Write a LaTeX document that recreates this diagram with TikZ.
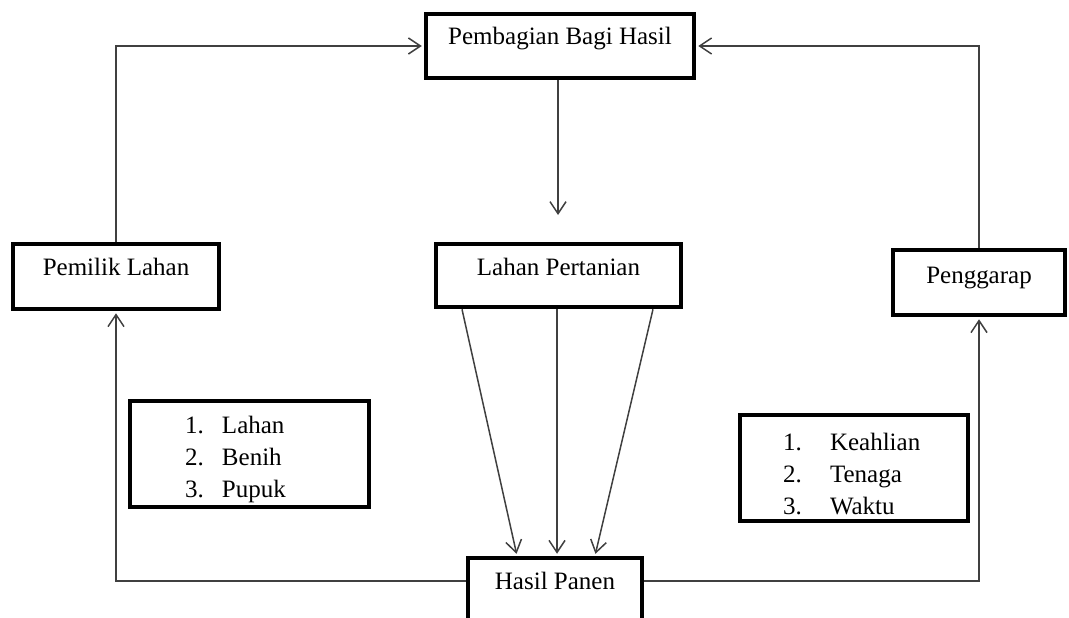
\documentclass[tikz,border=0pt]{standalone}
\usepackage{fontspec}
\setmainfont{Liberation Serif}
\usetikzlibrary{arrows.meta}
\begin{document}
\begin{tikzpicture}[x=1pt,y=-1pt,
  box/.style={draw=black,line width=4.5pt,inner sep=0pt,font=\fontsize{25}{32}\selectfont},
  listbox/.style={box,text width=#1,align=left,minimum height=106pt},
  conn/.style={draw=black!75,line width=1.5pt},
  arr/.style={conn,-{Straight Barb[length=12pt,width=16pt]}}]
\clip (0,0) rectangle (1069,618);
\useasboundingbox (0,0) rectangle (1069,618);

\node[box,minimum width=268pt,text height=31pt,text depth=33pt] (pbh) at (560,46) {Pembagian Bagi Hasil};
\node[box,minimum width=206pt,text height=31pt,text depth=34pt] (pem) at (116,276.5) {Pemilik Lahan};
\node[box,minimum width=245pt,text height=31pt,text depth=32pt] (lahan) at (558.5,275.5) {Lahan Pertanian};
\node[box,minimum width=172pt,text height=33pt,text depth=32pt] (peng) at (979,282.5) {Penggarap};
\node[box,minimum width=174pt,text height=31pt,text depth=51pt] (hasil) at (555,599) {Hasil Panen};

\node[listbox=239pt] (l1) at (249.5,454) {%
\rule{0pt}{29pt}\hspace*{55pt}\makebox[37pt][l]{1.}Lahan\\
\hspace*{55pt}\makebox[37pt][l]{2.}Benih\\
\hspace*{55pt}\makebox[37pt][l]{3.}Pupuk};
\node[listbox=228pt] (l2) at (854,468) {%
\rule{0pt}{29pt}\hspace*{43pt}\makebox[47pt][l]{1.}Keahlian\\
\hspace*{43pt}\makebox[47pt][l]{2.}Tenaga\\
\hspace*{43pt}\makebox[47pt][l]{3.}Waktu};

\coordinate (lt) at (558,215);
\draw[arr,shorten >=2pt] (pem.north) |- (pbh.west);
\draw[arr,shorten >=2pt] (peng.north) |- (pbh.east);
\draw[arr] (pbh.south -| lt) -- (lt);
\draw[arr,shorten >=2pt] ([xshift=-96.5pt]lahan.south) -- ([xshift=-38pt]hasil.north);
\draw[arr,shorten >=2pt] ([xshift=-1.5pt]lahan.south) -- ([xshift=2pt]hasil.north);
\draw[arr,shorten >=2pt] ([xshift=94.5pt]lahan.south) -- ([xshift=40pt]hasil.north);
\draw[arr,shorten >=2pt] ([yshift=-25pt]hasil.north west) -| (pem.south);
\draw[arr,shorten >=2pt] ([yshift=-25pt]hasil.north east) -| (peng.south);
\end{tikzpicture}
\end{document}
